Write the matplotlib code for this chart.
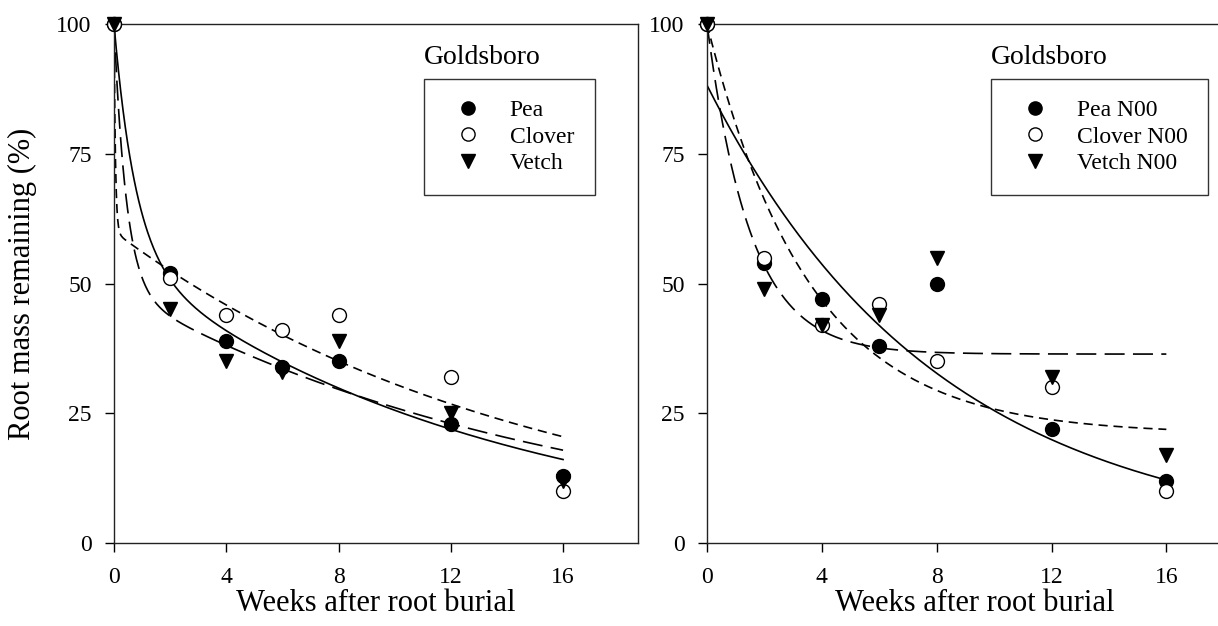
import numpy as np
from matplotlib import pyplot as plt

plt.rcParams['font.family'] = ['Liberation Serif', 'DejaVu Serif']

# sampling weeks
weeks = np.array([0, 2, 4, 6, 8, 12, 16])

# left panel - Goldsboro
pea = np.array([100, 52, 39, 34, 35, 23, 13])
clover = np.array([100, 51, 44, 41, 44, 32, 10])
vetch = np.array([100, 45, 35, 33, 39, 25, 12])

# right panel - Goldsboro N00
pea_n00 = np.array([100, 54, 47, 38, 50, 22, 12])
clover_n00 = np.array([100, 55, 42, 46, 35, 30, 10])
vetch_n00 = np.array([100, 49, 42, 44, 55, 32, 17])

# fitted decay curves: y = A*exp(-k1*t) + B*exp(-k2*t)
fit_left = {
    "pea": (44.6, 1.3, 55.4, 0.0773),
    "clover": (40.0, 20.0, 60.0, 0.0672),
    "vetch": (51.0, 2.3, 49.0, 0.063),
}
# right panel: y = A*exp(-k1*t) + C
fit_right = {
    "pea": (88.2, 0.124, 0.0),
    "clover": (79.0, 0.28, 21.0),
    "vetch": (63.6, 0.66, 36.4),
}

tick_x = [0, 4, 8, 12, 16]
tick_y = [0, 25, 50, 75, 100]

solid = '-'
short_dash = (0, (5.5, 3.5))
long_dash = (0, (12, 5))

fig = plt.figure(figsize=(12.18, 6.26), dpi=100)
ax1 = fig.add_axes([114 / 1218, 83 / 626, 524 / 1218, 519 / 626])
ax2 = fig.add_axes([707 / 1218, 83 / 626, 536 / 1218, 519 / 626])

tt = np.linspace(0, 16, 600)


def setup(ax, leg_x):
    ax.set_xlim(0, 18.67)
    ax.set_ylim(0, 100)
    ax.set_xticks(tick_x)
    ax.set_yticks(tick_y)
    ax.tick_params(direction='out', length=6.5, width=1, labelsize=17)
    ax.tick_params(axis='x', pad=10.5)
    ax.tick_params(axis='y', pad=9.5)
    for s in ax.spines.values():
        s.set_linewidth(1.0)
        s.set_color('#222222')
    ax.set_xlabel("Weeks after root burial", fontsize=22)
    ax.xaxis.set_label_coords(0.5, -0.088)
    ax.text(leg_x, 0.935, "Goldsboro", transform=ax.transAxes,
            fontsize=20, ha='left', va='center')


ms = 10

# left panel
for key, ls in [("pea", solid), ("clover", short_dash), ("vetch", long_dash)]:
    a, k1, b, k2 = fit_left[key]
    ax1.plot(tt, a * np.exp(-k1 * tt) + b * np.exp(-k2 * tt), color='black',
             lw=1.2, linestyle=ls, zorder=2)
ax1.plot(weeks, pea, 'o', ms=ms, mfc='black', mec='black', ls='none',
         label='Pea', clip_on=False, zorder=3)
ax1.plot(weeks, clover, 'o', ms=ms, mfc='white', mec='black', mew=1.0,
         ls='none', label='Clover', clip_on=False, zorder=3)
ax1.plot(weeks, vetch, 'v', ms=ms, mfc='black', mec='black', ls='none',
         label='Vetch', clip_on=False, zorder=3)
setup(ax1, 0.592)
ax1.set_ylabel("Root mass remaining (%)", fontsize=22)
ax1.yaxis.set_label_coords(-0.147, 0.5)

# right panel
for key, ls in [("pea", solid), ("clover", short_dash), ("vetch", long_dash)]:
    a, k, c = fit_right[key]
    ax2.plot(tt, a * np.exp(-k * tt) + c, color='black', lw=1.2,
             linestyle=ls, zorder=2)
ax2.plot(weeks, pea_n00, 'o', ms=ms, mfc='black', mec='black', ls='none',
         label='Pea N00', clip_on=False, zorder=3)
ax2.plot(weeks, clover_n00, 'o', ms=ms, mfc='white', mec='black', mew=1.0,
         ls='none', label='Clover N00', clip_on=False, zorder=3)
ax2.plot(weeks, vetch_n00, 'v', ms=ms, mfc='black', mec='black', ls='none',
         label='Vetch N00', clip_on=False, zorder=3)
setup(ax2, 0.530)

for ax, x0 in [(ax1, 0.592), (ax2, 0.530)]:
    leg = ax.legend(loc='upper left', bbox_to_anchor=(x0, 0.894), fontsize=17,
                    frameon=True, fancybox=False, borderpad=0.87,
                    handlelength=2.0, handletextpad=0.75, labelspacing=0.21,
                    borderaxespad=0, markerscale=0.95)
    leg.get_frame().set_edgecolor('black')
    leg.get_frame().set_linewidth(1.0)

fig.savefig("out.png", dpi=100)
